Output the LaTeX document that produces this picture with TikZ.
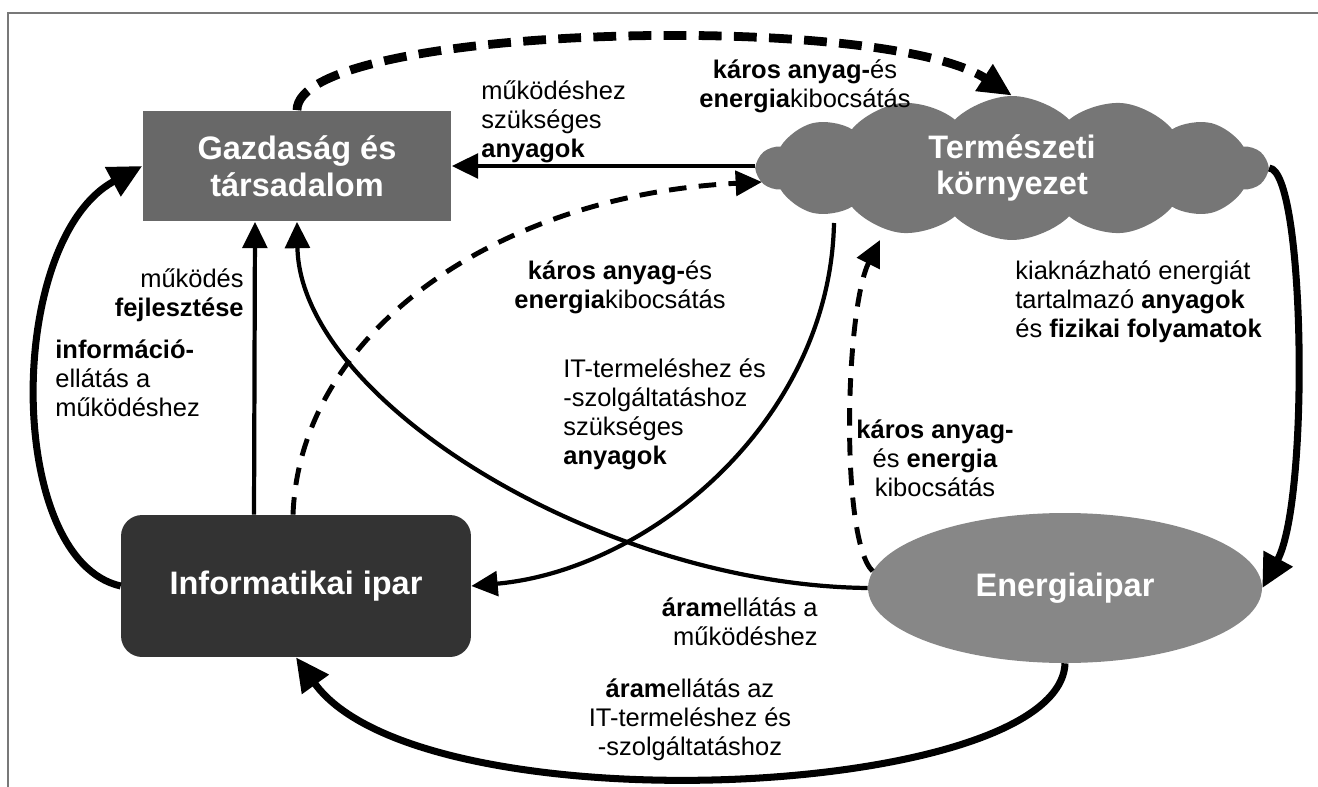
\documentclass[tikz,border=0pt]{standalone}
\usepackage{fontspec}
\setmainfont{Liberation Sans}
\usepackage{tikz}
\usetikzlibrary{arrows.meta,shapes.geometric,shapes.symbols}
\definecolor{framegray}{RGB}{120,120,120}
\definecolor{gazdgray}{RGB}{104,104,104}
\definecolor{termgray}{RGB}{118,118,118}
\definecolor{infogray}{RGB}{51,51,51}
\definecolor{energgray}{RGB}{135,135,135}

\begin{document}
\begin{tikzpicture}[
    x=0.02cm, y=-0.02cm,
    sector/.style={text=white, align=center, inner sep=0pt,
                   font=\fontsize{18.5}{21}\selectfont\bfseries},
    note/.style={inner sep=0pt, font=\fontsize{14.5}{16.5}\selectfont},
    link/.style={-{Triangle[length=15pt,width=14pt]}, line width=2.4pt},
    biglink/.style={-{Triangle[length=19pt,width=18pt]}, line width=4pt},
    leak/.style={-{Triangle[length=15pt,width=14pt]}, line width=2.8pt,
                 dash pattern=on 10pt off 7pt},
    bigleak/.style={-{Triangle[length=19pt,width=17pt]}, line width=5pt,
                    dash pattern=on 13pt off 7pt},
]
    \useasboundingbox (0,0) rectangle (1318,787);
    \draw[framegray, line width=1.2pt] (8,787) -- (8,13) -- (1318,13);

    % the four sectors
    \node[sector, rectangle, fill=gazdgray, minimum width=6.18cm,
          minimum height=2.22cm] (gazd) at (297,166) {Gazdaság és\\társadalom};
    \node[sector, cloud, cloud puffs=14, cloud puff arc=90, cloud ignores aspect,
          fill=termgray, minimum width=10.2cm, minimum height=2.88cm]
          (term) at (1012,168) {Természeti\\környezet};
    \node[sector, rectangle, rounded corners=12pt, fill=infogray,
          minimum width=7cm, minimum height=2.84cm] (info) at (296,586) {Informatikai ipar};
    \node[sector, ellipse, fill=energgray, minimum width=7.88cm,
          minimum height=3cm] (energ) at (1065,588) {Energiaipar};

    % flows
    \draw[bigleak] (gazd.north) .. controls (297,25) and (880,10) .. (term.north);
    \draw[link] (gazd.east -| term.west) -- (gazd.east);
    \draw[leak] ([xshift=-0.06cm]info.north) .. controls (300,330) and (500,195)
        .. ([shift={(-250,14)}]term.center);
    \draw[link] ([shift={(-178,55)}]term.center) .. controls (830,420) and (650,570) .. (info.east);
    \draw[link] ([xshift=-0.84cm]info.north) -- ([xshift=-0.84cm]gazd.south);
    \draw[link] (energ.west) .. controls (600,585) and (300,400) .. (gazd.south);
    \draw[biglink] (info.west) .. controls (5,560) and (5,240) .. (gazd.west);
    \draw[biglink] (term.east) .. controls (1305,170) and (1310,500) .. (energ.east);
    \draw[leak] (energ.175) .. controls (840,540) and (845,310)
        .. ([shift={(-132,72)}]term.center);
    \draw[biglink] (energ.south) .. controls (1060,800) and (420,830) .. (info.south);

    % labels
    \node[note, align=center] (lblTop) at (805,86)
        {\textbf{káros anyag-}és\\\textbf{energia}kibocsátás};
    \node[note, align=left, anchor=west] (lblAnyag) at (481,122)
        {működéshez\\szükséges\\\textbf{anyagok}};
    \node[note, align=right, anchor=east] (lblFejl) at (244,295)
        {működés\\\textbf{fejlesztése}};
    \node[note, align=left, anchor=west] (lblInfo) at (55,378)
        {\textbf{információ-}\\ellátás a\\működéshez};
    \node[note, align=center] (lblMid) at (620,287)
        {\textbf{káros anyag-}és\\\textbf{energia}kibocsátás};
    \node[note, align=left, anchor=west] (lblKiakn) at (1015,302)
        {kiaknázható energiát\\tartalmazó \textbf{anyagok}\\és \textbf{fizikai folyamatok}};
    \node[note, align=left, anchor=west] (lblIT) at (563,414)
        {IT-termeléshez és\\-szolgáltatáshoz\\szükséges\\\textbf{anyagok}};
    \node[note, align=center] (lblEnLeak) at (935,458)
        {\textbf{káros anyag-}\\és \textbf{energia}\\kibocsátás};
    \node[note, align=right, anchor=east] (lblAram) at (818,622)
        {\textbf{áram}ellátás a\\működéshez};
    \node[note, align=center] (lblAramIT) at (690,720)
        {\textbf{áram}ellátás az\\IT-termeléshez és\\-szolgáltatáshoz};
\end{tikzpicture}
\end{document}
